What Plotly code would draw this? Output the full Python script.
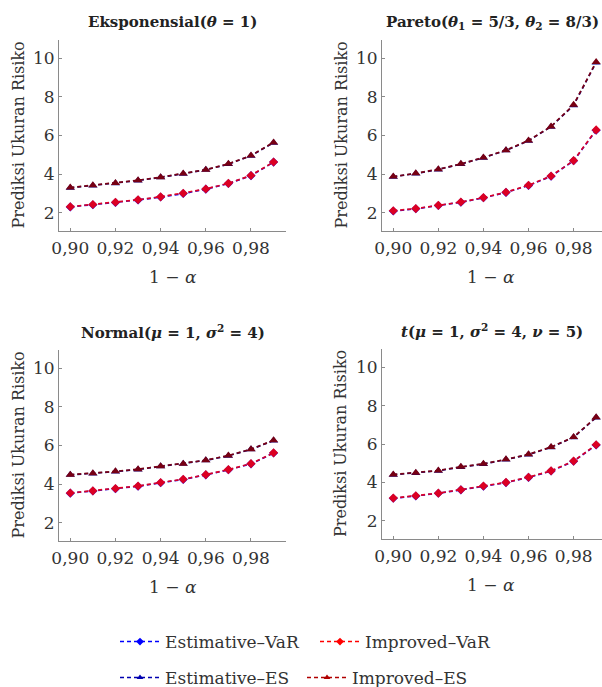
import plotly.graph_objects as go

# Confidence levels (1 - alpha)
levels = [0.90, 0.91, 0.92, 0.93, 0.94, 0.95, 0.96, 0.97, 0.98, 0.99]

panel_titles = [
    "<b>Eksponensial(<i>θ</i> = 1)</b>",
    "<b>Pareto(<i>θ</i><sub>1</sub> = 5/3, <i>θ</i><sub>2</sub> = 8/3)</b>",
    "<b>Normal(<i>μ</i> = 1, <i>σ</i><sup>2</sup> = 4)</b>",
    "<b><i>t</i>(<i>μ</i> = 1, <i>σ</i><sup>2</sup> = 4, <i>ν</i> = 5)</b>",
]

# Predicted risk measures per distribution
exp_est_var = [2.30, 2.41, 2.53, 2.66, 2.81, 2.99, 3.22, 3.51, 3.92, 4.62]
exp_imp_var = [2.31, 2.42, 2.54, 2.67, 2.82, 3.01, 3.23, 3.52, 3.93, 4.63]
exp_est_es = [3.29, 3.41, 3.53, 3.67, 3.83, 4.02, 4.22, 4.52, 4.95, 5.63]
exp_imp_es = [3.30, 3.42, 3.54, 3.68, 3.84, 4.03, 4.23, 4.53, 4.96, 5.64]

par_est_var = [2.09, 2.20, 2.37, 2.54, 2.77, 3.05, 3.41, 3.89, 4.69, 6.27]
par_imp_var = [2.10, 2.21, 2.38, 2.55, 2.78, 3.06, 3.42, 3.90, 4.70, 6.29]
par_est_es = [3.86, 4.03, 4.24, 4.52, 4.85, 5.23, 5.73, 6.46, 7.57, 9.79]
par_imp_es = [3.87, 4.04, 4.25, 4.53, 4.86, 5.24, 5.74, 6.47, 7.59, 9.81]

nor_est_var = [3.53, 3.64, 3.76, 3.89, 4.07, 4.24, 4.48, 4.74, 5.05, 5.61]
nor_imp_var = [3.54, 3.65, 3.77, 3.90, 4.08, 4.25, 4.49, 4.75, 5.06, 5.62]
nor_est_es = [4.48, 4.55, 4.65, 4.76, 4.92, 5.05, 5.23, 5.47, 5.80, 6.26]
nor_imp_es = [4.49, 4.56, 4.66, 4.77, 4.93, 5.06, 5.24, 5.48, 5.81, 6.27]

t_est_var = [3.17, 3.29, 3.43, 3.61, 3.80, 3.99, 4.26, 4.59, 5.10, 5.95]
t_imp_var = [3.18, 3.30, 3.44, 3.62, 3.81, 4.00, 4.27, 4.60, 5.11, 5.96]
t_est_es = [4.40, 4.49, 4.61, 4.80, 4.96, 5.19, 5.45, 5.83, 6.35, 7.38]
t_imp_es = [4.41, 4.50, 4.62, 4.81, 4.97, 5.20, 5.46, 5.84, 6.36, 7.40]

panels = [
    (exp_est_var, exp_imp_var, exp_est_es, exp_imp_es),
    (par_est_var, par_imp_var, par_est_es, par_imp_es),
    (nor_est_var, nor_imp_var, nor_est_es, nor_imp_es),
    (t_est_var, t_imp_var, t_est_es, t_imp_es),
]

series_names = ["Estimative–VaR", "Improved–VaR", "Estimative–ES", "Improved–ES"]
series_colors = ["#0000ff", "#ff0000", "#00008b", "#8b0000"]
legend_colors = ["#0000ff", "#ff0000", "#0000b0", "#b00000"]
series_symbols = ["diamond", "diamond", "triangle-up", "triangle-up"]
series_sizes = [7, 7, 8, 8]
series_opacity = [1.0, 0.86, 1.0, 0.86]
series_legend = ["legend", "legend", "legend2", "legend2"]

W, H = 602, 687
FONT = "DejaVu Serif"
TXT = "#333333"

# Plot-area boxes in pixels: (left, right, top, bottom) and x ranges
boxes = [
    (59, 286, 40, 231),
    (382, 602, 40, 231),
    (59, 286, 350, 541),
    (382, 602, 349, 539),
]
x_ranges = [
    [0.895, 0.9955],
    [0.895, 0.9926],
    [0.895, 0.9955],
    [0.895, 0.9926],
]
y_range = [1.05, 10.95]

fig = go.Figure()

for p, vals in enumerate(panels):
    suffix = "" if p == 0 else str(p + 1)
    for k in range(4):
        fig.add_trace(go.Scatter(
            x=levels, y=vals[k], mode="lines+markers",
            name=series_names[k], showlegend=False,
            opacity=series_opacity[k],
            line=dict(color=series_colors[k], width=1.7, dash="4px,3px"),
            marker=dict(symbol=series_symbols[k], size=series_sizes[k],
                        color=series_colors[k]),
            xaxis="x" + suffix, yaxis="y" + suffix,
        ))

# Legend keys (no data, only the key)
for k in range(4):
    fig.add_trace(go.Scatter(
        x=[None], y=[None], mode="lines+markers",
        name=series_names[k], legend=series_legend[k],
        line=dict(color=legend_colors[k], width=1.4, dash="4px,3px"),
        marker=dict(symbol=series_symbols[k], size=6, color=legend_colors[k]),
    ))

legend_common = dict(
    orientation="h", xanchor="left", yanchor="middle",
    font=dict(size=17, family=FONT, color=TXT),
    itemwidth=40, tracegroupgap=0, bgcolor="rgba(0,0,0,0)",
)

layout = dict(
    width=W, height=H,
    margin=dict(l=0, r=0, t=0, b=0, autoexpand=False),
    paper_bgcolor="white", plot_bgcolor="white",
    separators=", ",
    font=dict(family=FONT, color=TXT, size=17),
    showlegend=True,
    legend=dict(legend_common, x=115 / W, y=1 - 642 / H, entrywidth=145),
    legend2=dict(legend_common, x=115 / W, y=1 - 678 / H, entrywidth=132),
)

annotations = []
for p, (l, r, t, b) in enumerate(boxes):
    suffix = "" if p == 0 else str(p + 1)
    axis_common = dict(
        showline=True, linecolor="#8a8a8a", linewidth=1,
        ticks="inside", ticklen=3, tickcolor="#8a8a8a",
        showgrid=False, zeroline=False,
        tickfont=dict(family=FONT, size=17, color=TXT),
    )
    layout["xaxis" + suffix] = dict(
        axis_common, domain=[l / W, r / W], range=x_ranges[p],
        tickvals=[0.90, 0.92, 0.94, 0.96, 0.98], tickformat=".2f",
        ticklabelstandoff=2, anchor="y" + suffix,
    )
    layout["yaxis" + suffix] = dict(
        axis_common, domain=[1 - b / H, 1 - t / H], range=y_range,
        tickvals=[2, 4, 6, 8, 10], anchor="x" + suffix,
    )
    cx = (l + r) / 2 if p in (0, 2) else 492
    annotations.append(dict(
        text=panel_titles[p], x=cx / W, y=1 - (t - 18) / H,
        xref="paper", yref="paper", showarrow=False,
        xanchor="center", yanchor="middle",
        font=dict(family=FONT, size=15, color="#222222"),
    ))
    annotations.append(dict(
        text="1 − <i>α</i>", x=((l + r) / 2 if p in (0, 2) else 491) / W,
        y=1 - (b + 46) / H, xref="paper", yref="paper", showarrow=False,
        xanchor="center", yanchor="middle",
        font=dict(family=FONT, size=17, color=TXT),
    ))
    annotations.append(dict(
        text="Prediksi Ukuran Risiko", x=(l - 41) / W, y=1 - ((t + b) / 2) / H,
        xref="paper", yref="paper", showarrow=False, textangle=-90,
        xanchor="center", yanchor="middle",
        font=dict(family=FONT, size=16, color=TXT),
    ))

layout["annotations"] = annotations
fig.update_layout(layout)
fig.write_html("out.html")
